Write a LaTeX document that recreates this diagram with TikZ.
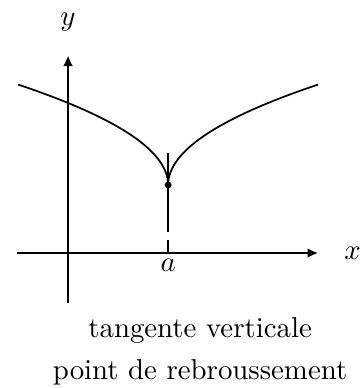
\documentclass[tikz,border=0pt]{standalone}
\usepackage{tikz}
\usetikzlibrary{arrows.meta}

\begin{document}
\begin{tikzpicture}[
          axis/.style={line width=0.8pt, -{Latex[length=1.3mm, width=1.2mm]}},
          courbe/.style={line width=0.6pt, variable=\t, samples=60},
          legende/.style={font=\normalsize}
        ]
        \useasboundingbox (-0.83,-1.646) rectangle (3.60,3.085);
        % Axes
        \draw[axis] (-0.62,0) -- (3.05,0);
        \draw[axis] (0,-0.61) -- (0,2.41);
        \node (labx) at (3.47,0) {$x$};
        \node (laby) at (0,2.82) {$y$};

        % Courbe avec point de rebroussement en (a, f(a))
        \coordinate (P) at (1.22,0.83);
        \draw[courbe, domain=0:1.353] plot ({1.22-\t*\t}, {0.83+0.905*\t});
        \draw[courbe, domain=0:1.353] plot ({1.22+\t*\t}, {0.83+0.905*\t});

        % Tangente verticale
        \coordinate (Thaut) at (1.22,1.22);
        \coordinate (Tbas) at (1.22,0);
        \draw[line width=0.5pt, dash pattern=on 0.96cm off 0.1cm] (Thaut) -- (Tbas);
        \fill (P) circle (1.2pt);
        \node (laba) at (1.22,-0.15) {$a$};

        % Legende
        \node[legende] (leg1) at (1.61,-0.94) {tangente verticale};
        \node[legende] (leg2) at (1.61,-1.45) {point de rebroussement};
      \end{tikzpicture}
\end{document}
